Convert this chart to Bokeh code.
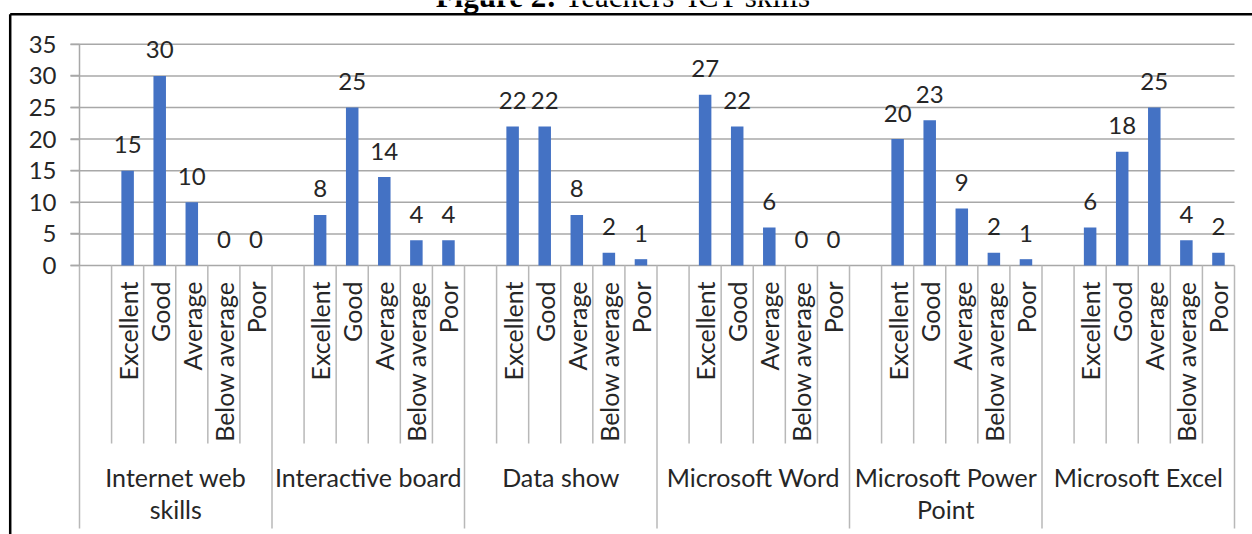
import numpy as np
from bokeh.plotting import figure
from bokeh.models import ColumnDataSource, Range1d, FixedTicker, LinearAxis
from bokeh.core.properties import value
from bokeh.embed import file_html
from bokeh.resources import INLINE

# ---- data ----
title_bold = "Figure 2:"
title_rest = "Teachers' ICT skills"
groups = ["Internet web\nskills", "Interactive board", "Data show",
          "Microsoft Word", "Microsoft Power\nPoint", "Microsoft Excel"]
levels = ["Excellent", "Good", "Average", "Below average", "Poor"]
internet_web = [15, 30, 10, 0, 0]
interactive_board = [8, 25, 14, 4, 4]
data_show = [22, 22, 8, 2, 1]
microsoft_word = [27, 22, 6, 0, 0]
microsoft_powerpoint = [20, 23, 9, 2, 1]
microsoft_excel = [6, 18, 25, 4, 2]
y_ticks = [0, 5, 10, 15, 20, 25, 30, 35]

series = [internet_web, interactive_board, data_show,
          microsoft_word, microsoft_powerpoint, microsoft_excel]

# ---- layout constants (pixels) ----
FONT = "Lato"
TXT = "#262626"
GRID = "#a8a8a8"
SEP = "#b8b8b8"
W, H = 1252, 534
SLOTS = len(levels) + 1          # one empty slot in front of each group
NSLOT = SLOTS * len(groups)
X0_PX, XN_PX = 79.0, 1234.0      # plot area left / right
Y0_PX = 265.0                    # value 0
PX = 6.32                        # pixels per value unit
SW = (XN_PX - X0_PX) / NSLOT     # pixels per slot


def dx(px):
    return (px - X0_PX) / SW


def dy(py):
    return (Y0_PX - py) / PX


# ---- derived columns ----
xs, tops, labs, txt = [], [], [], []
for g, vals in enumerate(series):
    for k, v in enumerate(vals):
        xs.append(g * SLOTS + 1 + k + 0.5)
        tops.append(v)
        labs.append(levels[k])
        txt.append(str(v))
src = ColumnDataSource(dict(x=xs, top=tops, lab=labs, txt=txt))

gsrc = ColumnDataSource(dict(x=[g * SLOTS + SLOTS / 2 for g in range(len(groups))],
                             y=[0] * len(groups), name=groups))

short_x = [g * SLOTS + j for g in range(len(groups)) for j in range(1, SLOTS)]
long_x = [g * SLOTS for g in range(len(groups) + 1)]

p = figure(width=W, height=H, output_backend="svg", toolbar_location=None,
           x_range=Range1d(dx(0), dx(W)), y_range=Range1d(dy(H), dy(0)),
           x_axis_location=None, y_axis_location=None,
           min_border_left=0, min_border_right=0, min_border_top=0,
           min_border_bottom=0)
p.outline_line_color = None
p.background_fill_color = "white"
p.border_fill_color = "white"
p.xgrid.visible = False
p.ygrid.visible = False

# horizontal gridlines (incl. outside tick marks)
p.segment(x0=[dx(X0_PX - 9)] * len(y_ticks), y0=y_ticks,
          x1=[NSLOT] * len(y_ticks), y1=y_ticks, line_color=GRID, line_width=1.5)

# value axis
ax = LinearAxis(fixed_location=0)
ax.ticker = FixedTicker(ticks=y_ticks)
ax.bounds = (min(y_ticks), max(y_ticks))
ax.axis_line_color = GRID
ax.axis_line_width = 1.5
ax.major_tick_line_color = GRID
ax.major_tick_line_width = 1.5
ax.major_tick_out = 9
ax.major_tick_in = 0
ax.minor_tick_line_color = None
ax.major_label_text_font = FONT
ax.major_label_text_font_size = "24px"
ax.major_label_text_color = TXT
ax.major_label_standoff = 14
p.add_layout(ax, "left")

# category separators
p.segment(x0=short_x, y0=[0] * len(short_x), x1=short_x,
          y1=[dy(443)] * len(short_x), line_color=SEP, line_width=1.5)
p.segment(x0=long_x, y0=[0] * len(long_x), x1=long_x,
          y1=[dy(528)] * len(long_x), line_color=SEP, line_width=1.5)

# bars
p.vbar(x="x", top="top", bottom=0, width=0.39, source=src,
       fill_color="#4472C4", line_color=None)

# data labels
p.text(x="x", y="top", text="txt", source=src, text_align="center",
       text_baseline="alphabetic", y_offset=-26, text_color=TXT,
       text_font=value(FONT), text_font_size="24px")

# level labels (rotated)
p.text(x="x", y=0, text="lab", source=src, angle=np.pi / 2,
       text_align="right", text_baseline="middle", y_offset=16,
       text_color=TXT, text_font=value(FONT), text_font_size="25px")

# group labels
p.text(x="x", y="y", text="name", source=gsrc, text_align="center",
       text_baseline="top", y_offset=196, text_color=TXT,
       text_font=value(FONT), text_font_size="25px", text_line_height=1.08)

# chart frame (left and top edges visible in the crop)
p.segment(x0=[dx(9.7), dx(9.7)], y0=[dy(13.7), dy(13.7)],
          x1=[dx(9.7), dx(W + 5)], y1=[dy(H + 5), dy(13.7)],
          line_color="black", line_width=2.5)

# document caption, cut by the crop at the top
p.text(x=[dx(556)], y=[dy(-4)], text=[title_bold], text_align="right",
       text_baseline="alphabetic", text_color="black", text_font_style="bold",
       text_font=value("Liberation Serif"), text_font_size="31px")
p.text(x=[dx(564)], y=[dy(-4)], text=[title_rest], text_align="left",
       text_baseline="alphabetic", text_color="black",
       text_font=value("Liberation Serif"), text_font_size="31px")

open("out.html", "w").write(file_html(p, INLINE))
